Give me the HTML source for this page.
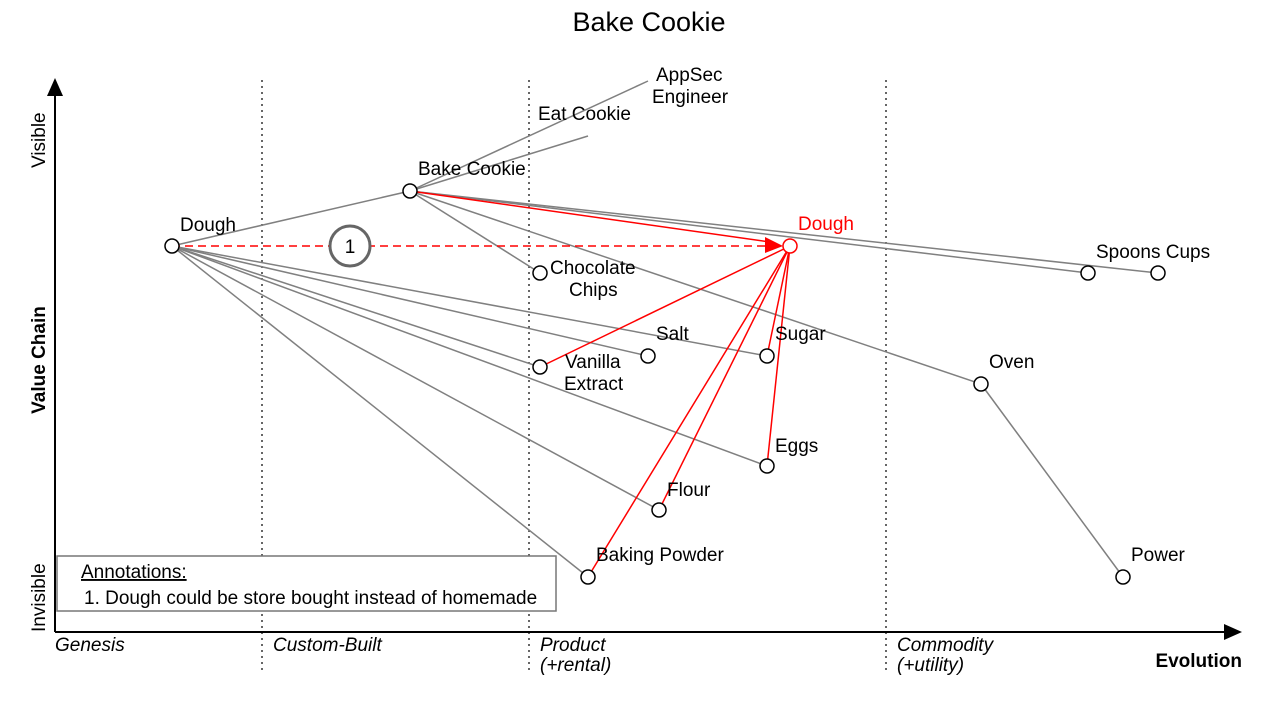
<!DOCTYPE html>
<html><head><style>body{margin:0;background:#fff}svg{font-family:"Liberation Sans",Arial,sans-serif}</style></head><body>
<svg width="1263" height="706" viewBox="0 0 1263 706">
<text x="649" y="31" font-size="27" text-anchor="middle">Bake Cookie</text>
<g stroke="#333" stroke-dasharray="2,4" stroke-width="1.5"><line x1="262" y1="80" x2="262" y2="672"/><line x1="529" y1="80" x2="529" y2="672"/><line x1="886" y1="80" x2="886" y2="672"/></g>
<g stroke="#000" stroke-width="2"><line x1="55" y1="632" x2="55" y2="92"/><line x1="55" y1="632" x2="1226" y2="632"/></g>
<polygon points="55,78 47,96 63,96"/><polygon points="1242,632 1224,624 1224,640"/>
<g font-size="19" font-style="italic"><text x="55" y="651">Genesis</text><text x="273" y="651">Custom-Built</text><text x="540" y="651">Product</text><text x="540" y="671">(+rental)</text><text x="897" y="651">Commodity</text><text x="897" y="671">(+utility)</text></g>
<text x="1242" y="667" font-size="19" font-weight="bold" text-anchor="end">Evolution</text>
<text transform="translate(45,360) rotate(-90)" font-size="19" font-weight="bold" text-anchor="middle">Value Chain</text>
<text transform="translate(45,168) rotate(-90)" font-size="19">Visible</text>
<text transform="translate(45,632) rotate(-90)" font-size="19">Invisible</text>
<g stroke="#808080" stroke-width="1.5">
<line x1="410" y1="191" x2="648" y2="81"/><line x1="410" y1="191" x2="588" y2="136"/>
<line x1="410" y1="191" x2="1088" y2="273"/><line x1="410" y1="191" x2="1158" y2="273"/>
<line x1="410" y1="191" x2="540" y2="273"/><line x1="410" y1="191" x2="981" y2="384"/>
<line x1="172" y1="246" x2="410" y2="191"/>
<line x1="172" y1="246" x2="648" y2="356"/><line x1="172" y1="246" x2="767" y2="356"/>
<line x1="172" y1="246" x2="540" y2="367"/><line x1="172" y1="246" x2="767" y2="466"/>
<line x1="172" y1="246" x2="659" y2="510"/><line x1="172" y1="246" x2="588" y2="577"/>
<line x1="981" y1="384" x2="1123" y2="577"/>
</g>
<g stroke="#f00" stroke-width="1.5">
<line x1="172" y1="246" x2="770" y2="246" stroke-dasharray="8,5"/>
<line x1="410" y1="191" x2="770" y2="242"/>
<line x1="790" y1="246" x2="540" y2="367"/><line x1="790" y1="246" x2="767" y2="356"/>
<line x1="790" y1="246" x2="767" y2="466"/><line x1="790" y1="246" x2="659" y2="510"/>
<line x1="790" y1="246" x2="588" y2="577"/>
</g>
<polygon points="783,246 765,237 765,253" fill="#f00"/>
<circle cx="350" cy="246" r="20" fill="#fff" stroke="#666" stroke-width="3"/>
<text x="350" y="253" font-size="19" text-anchor="middle">1</text>
<g fill="#fff" stroke="#000" stroke-width="1.5">
<circle cx="172" cy="246" r="7"/><circle cx="410" cy="191" r="7"/><circle cx="540" cy="273" r="7"/>
<circle cx="540" cy="367" r="7"/><circle cx="648" cy="356" r="7"/><circle cx="767" cy="356" r="7"/>
<circle cx="767" cy="466" r="7"/><circle cx="659" cy="510" r="7"/><circle cx="588" cy="577" r="7"/>
<circle cx="1088" cy="273" r="7"/><circle cx="1158" cy="273" r="7"/><circle cx="981" cy="384" r="7"/>
<circle cx="1123" cy="577" r="7"/>
<circle cx="790" cy="246" r="7" stroke="#f00"/>
</g>
<g font-size="19">
<text x="656" y="81">AppSec</text><text x="652" y="103">Engineer</text>
<text x="538" y="120">Eat Cookie</text><text x="418" y="175">Bake Cookie</text>
<text x="180" y="231">Dough</text><text x="798" y="230" fill="#f00">Dough</text>
<text x="550" y="274">Chocolate</text><text x="569" y="296">Chips</text>
<text x="656" y="340">Salt</text><text x="775" y="340">Sugar</text>
<text x="565" y="368">Vanilla</text><text x="564" y="390">Extract</text>
<text x="775" y="452">Eggs</text><text x="667" y="496">Flour</text>
<text x="596" y="561">Baking Powder</text>
<text x="1096" y="258">Spoons Cups</text><text x="989" y="368">Oven</text><text x="1131" y="561">Power</text>
</g>
<rect x="57" y="556" width="499" height="55" fill="#fff" stroke="#777" stroke-width="1.5"/>
<text x="81" y="578" font-size="19" text-decoration="underline">Annotations:</text>
<text x="84" y="604" font-size="19">1. Dough could be store bought instead of homemade</text>
</svg>
</body></html>
